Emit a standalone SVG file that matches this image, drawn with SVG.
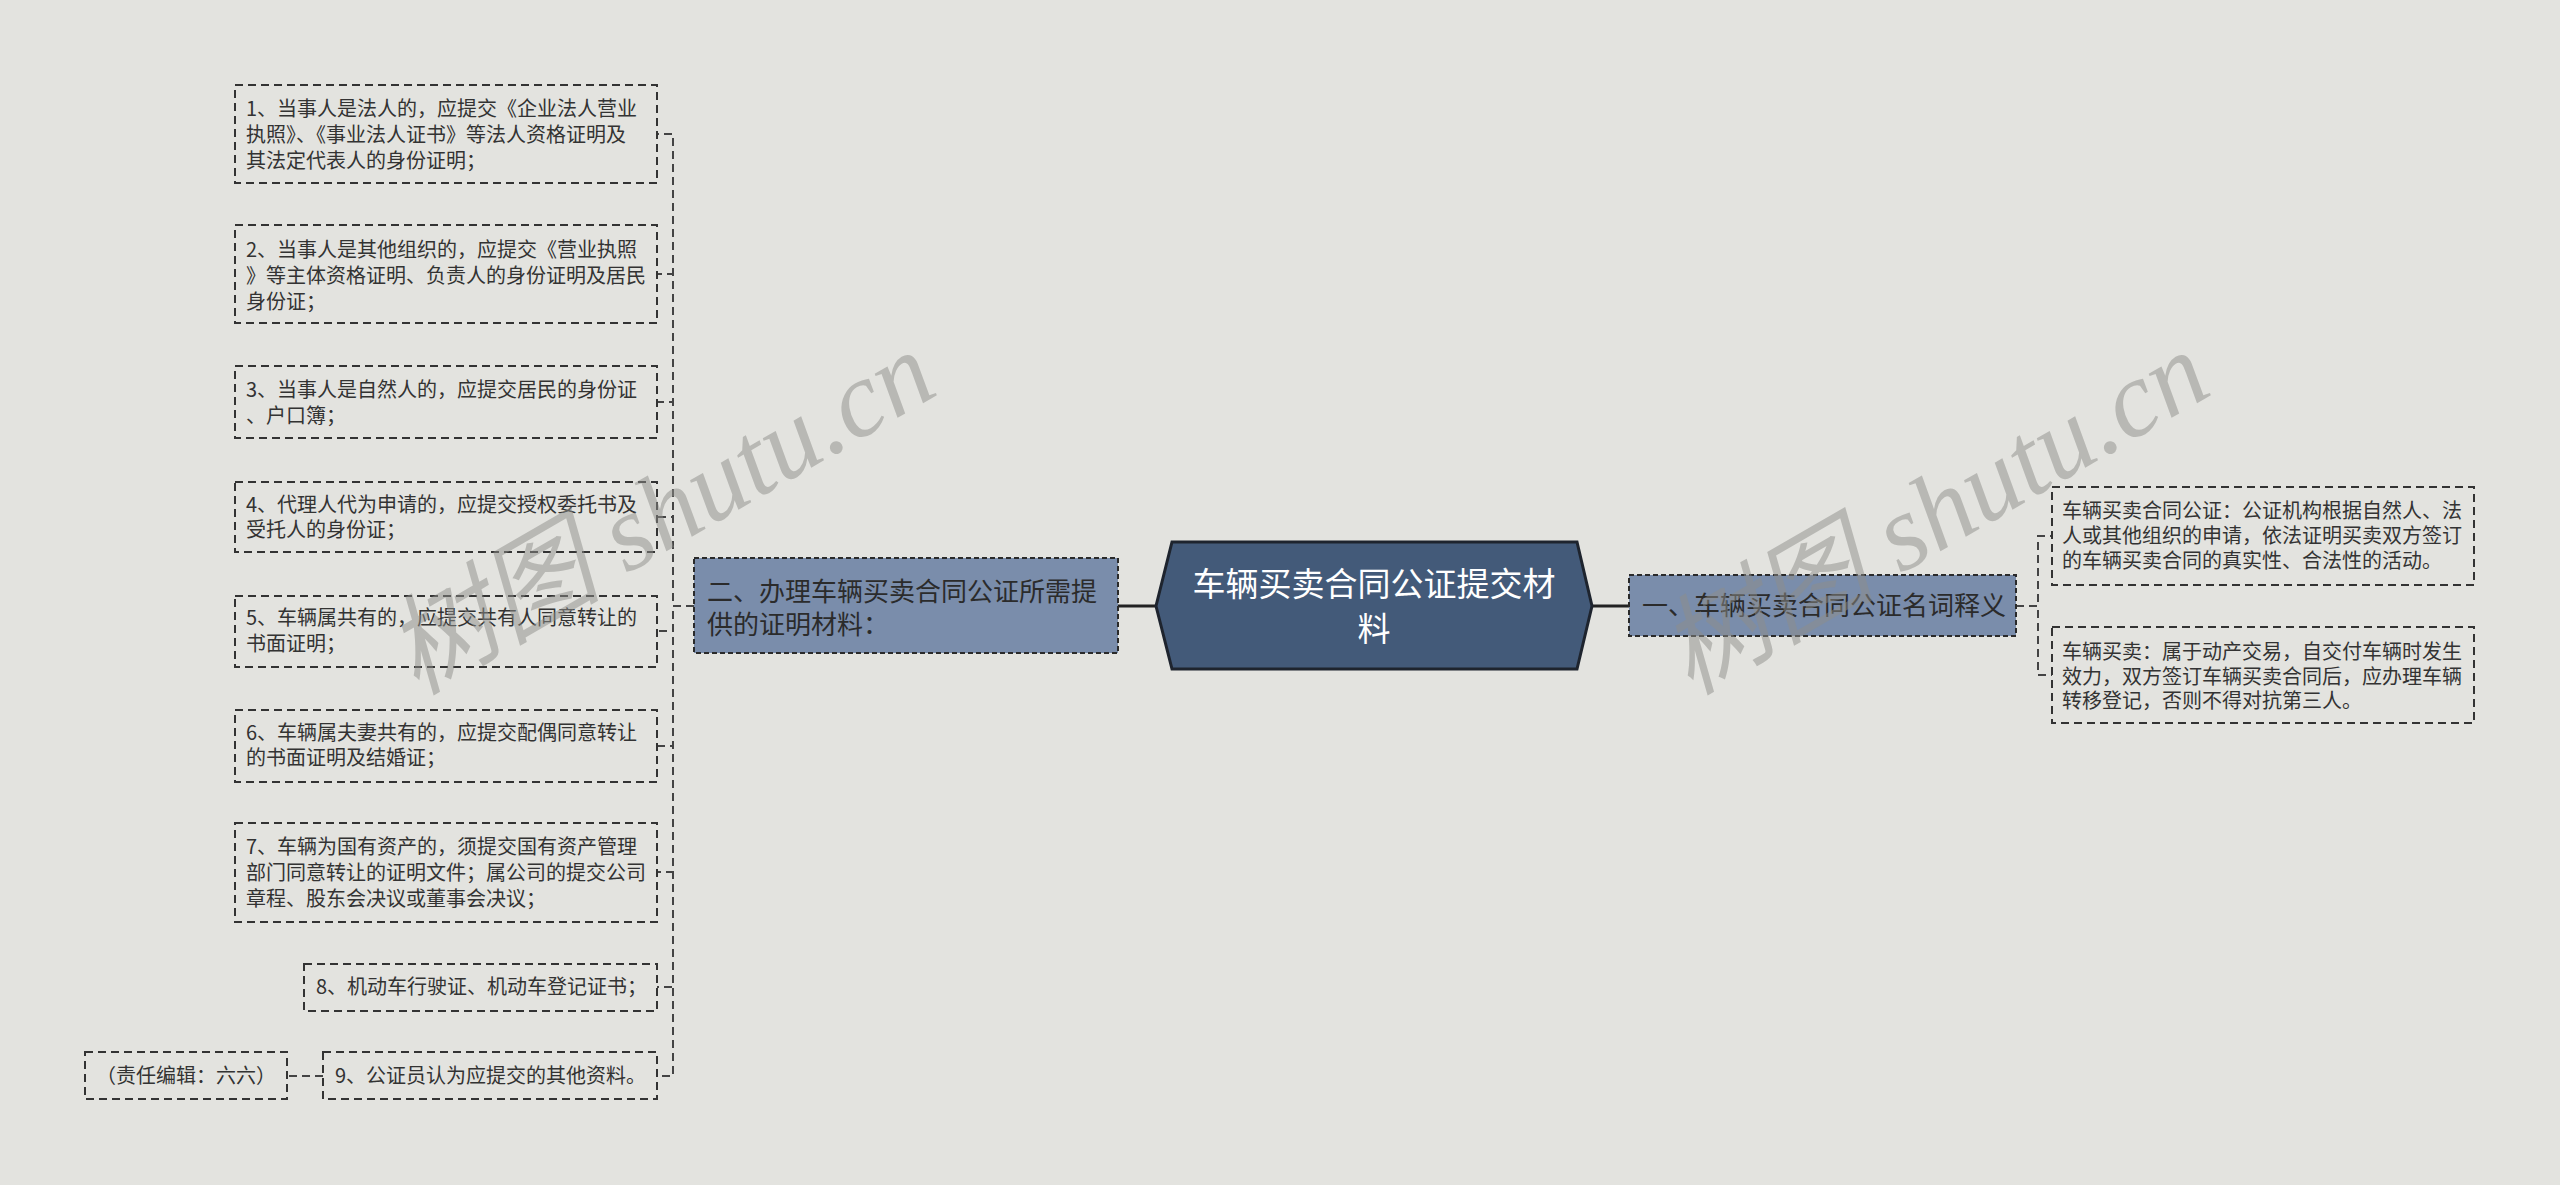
<svg xmlns="http://www.w3.org/2000/svg" width="2560" height="1185" viewBox="0 0 2560 1185">
<style>
.bg{fill:#e3e3df}
.leaf{fill:none;stroke:#333;stroke-width:2;stroke-dasharray:8 5}
.sub{fill:#7a8dab;stroke:#2a2a2a;stroke-width:2;stroke-dasharray:5 3}
.root{fill:#435a79;stroke:#1e242e;stroke-width:3}
.t{font-family:"Noto Sans CJK SC","Liberation Sans",sans-serif;fill:#333}
.lt{font-size:20px}
.rt{font-size:20px}
.st{font-size:26px;fill:#2b2b2b}
.ct{font-size:33px;fill:#ffffff}
.con{fill:none;stroke:#444;stroke-width:2;stroke-dasharray:8 5}
.main{fill:none;stroke:#222;stroke-width:3}
.wm{font-family:"Liberation Serif","Noto Sans CJK SC",serif;font-size:108px;fill:#8e8e8a;opacity:0.5;font-style:italic}
</style>
<rect class="bg" x="0" y="0" width="2560" height="1185"/>

<g id="connectors">
<path class="main" d="M1118 606 H1156"/>
<path class="main" d="M1592 606 H1629"/>
<path class="con" d="M694 606 H673 V134 H657"/>
<path class="con" d="M694 606 H673 V274 H657"/>
<path class="con" d="M694 606 H673 V402 H657"/>
<path class="con" d="M694 606 H673 V517 H657"/>
<path class="con" d="M694 606 H673 V631 H657"/>
<path class="con" d="M694 606 H673 V746 H657"/>
<path class="con" d="M694 606 H673 V872 H657"/>
<path class="con" d="M694 606 H673 V987 H657"/>
<path class="con" d="M694 606 H673 V1076 H657"/>
<path class="con" d="M2016 606 H2038 V536 H2052"/>
<path class="con" d="M2016 606 H2038 V675 H2052"/>
<path class="con" d="M323 1076 H287"/>
</g>

<g id="root">
<polygon class="root" points="1172,542 1577,542 1592,606 1577,669 1172,669 1156,606"/>
<text class="t ct" x="1374" y="596" text-anchor="middle">车辆买卖合同公证提交材</text>
<text class="t ct" x="1374" y="641" text-anchor="middle">料</text>
</g>

<g id="n-er">
<rect class="sub" x="694" y="558" width="424" height="95"/>
<text class="t st" x="707" y="601">二、办理车辆买卖合同公证所需提</text>
<text class="t st" x="707" y="634">供的证明材料：</text>
</g>

<g id="n-yi">
<rect class="sub" x="1629" y="575" width="387" height="61"/>
<text class="t st" x="1642" y="615">一、车辆买卖合同公证名词释义</text>
</g>

<g id="n-a">
<rect class="leaf" x="2052" y="487" width="422" height="98"/>
<text class="t rt" x="2062" y="518">车辆买卖合同公证：公证机构根据自然人、法</text>
<text class="t rt" x="2062" y="543">人或其他组织的申请，依法证明买卖双方签订</text>
<text class="t rt" x="2062" y="568">的车辆买卖合同的真实性、合法性的活动。</text>
</g>

<g id="n-b">
<rect class="leaf" x="2052" y="627" width="422" height="96"/>
<text class="t rt" x="2062" y="659">车辆买卖：属于动产交易，自交付车辆时发生</text>
<text class="t rt" x="2062" y="684">效力，双方签订车辆买卖合同后，应办理车辆</text>
<text class="t rt" x="2062" y="708">转移登记，否则不得对抗第三人。</text>
</g>

<g id="n1">
<rect class="leaf" x="235" y="85" width="422" height="98"/>
<text class="t lt" x="246" y="116">1、当事人是法人的，应提交《企业法人营业</text>
<text class="t lt" x="246" y="142">执照》、《事业法人证书》等法人资格证明及</text>
<text class="t lt" x="246" y="168">其法定代表人的身份证明；</text>
</g>

<g id="n2">
<rect class="leaf" x="235" y="225" width="422" height="98"/>
<text class="t lt" x="246" y="257">2、当事人是其他组织的，应提交《营业执照</text>
<text class="t lt" x="246" y="283">》等主体资格证明、负责人的身份证明及居民</text>
<text class="t lt" x="246" y="309">身份证；</text>
</g>

<g id="n3">
<rect class="leaf" x="235" y="366" width="422" height="72"/>
<text class="t lt" x="246" y="397">3、当事人是自然人的，应提交居民的身份证</text>
<text class="t lt" x="246" y="423">、户口簿；</text>
</g>

<g id="n4">
<rect class="leaf" x="235" y="482" width="422" height="70"/>
<text class="t lt" x="246" y="512">4、代理人代为申请的，应提交授权委托书及</text>
<text class="t lt" x="246" y="537">受托人的身份证；</text>
</g>

<g id="n5">
<rect class="leaf" x="235" y="596" width="422" height="71"/>
<text class="t lt" x="246" y="625">5、车辆属共有的，应提交共有人同意转让的</text>
<text class="t lt" x="246" y="651">书面证明；</text>
</g>

<g id="n6">
<rect class="leaf" x="235" y="710" width="422" height="72"/>
<text class="t lt" x="246" y="740">6、车辆属夫妻共有的，应提交配偶同意转让</text>
<text class="t lt" x="246" y="765">的书面证明及结婚证；</text>
</g>

<g id="n7">
<rect class="leaf" x="235" y="823" width="422" height="99"/>
<text class="t lt" x="246" y="854">7、车辆为国有资产的，须提交国有资产管理</text>
<text class="t lt" x="246" y="880">部门同意转让的证明文件；属公司的提交公司</text>
<text class="t lt" x="246" y="906">章程、股东会决议或董事会决议；</text>
</g>

<g id="n8">
<rect class="leaf" x="304" y="964" width="353" height="47"/>
<text class="t lt" x="316" y="994">8、机动车行驶证、机动车登记证书；</text>
</g>

<g id="n9">
<rect class="leaf" x="323" y="1052" width="334" height="47"/>
<text class="t lt" x="335" y="1083">9、公证员认为应提交的其他资料。</text>
</g>

<g id="n-editor">
<rect class="leaf" x="85" y="1052" width="202" height="47"/>
<text class="t lt" x="186" y="1083" text-anchor="middle">（责任编辑：六六）</text>
</g>

<g id="watermarks">
<text class="wm" transform="translate(661 514) rotate(-30)" x="0" y="35" text-anchor="middle">树图 shutu.cn</text>
<text class="wm" transform="translate(1935 514) rotate(-30)" x="0" y="35" text-anchor="middle">树图 shutu.cn</text>
</g>
</svg>
